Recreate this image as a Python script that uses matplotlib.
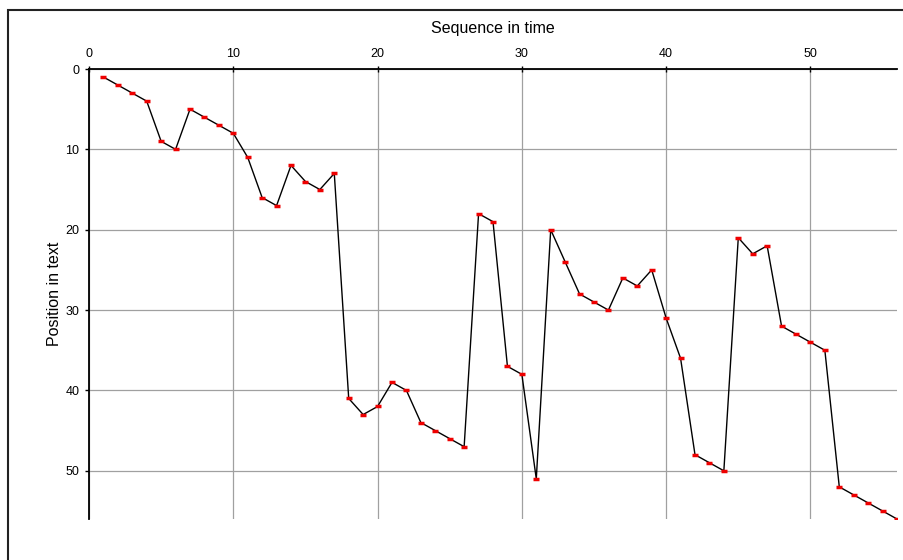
import matplotlib
matplotlib.use("Agg")
import matplotlib.pyplot as plt
from matplotlib.patches import Rectangle

plt.rcParams['font.family'] = ['Liberation Sans', 'DejaVu Sans']

sequence = list(range(1, 57))
position = [1, 2, 3, 4, 9, 10, 5, 6, 7, 8,
            11, 16, 17, 12, 14, 15, 13, 41, 43, 42,
            39, 40, 44, 45, 46, 47, 18, 19, 37, 38,
            51, 20, 24, 28, 29, 30, 26, 27, 25, 31,
            36, 48, 49, 50, 21, 23, 22, 32, 33, 34,
            35, 52, 53, 54, 55, 56]
x_ticks = [0, 10, 20, 30, 40, 50]
y_ticks = [0, 10, 20, 30, 40, 50]

fig = plt.figure(figsize=(9.04, 5.6), dpi=100)
ax = fig.add_axes([89/904, 1-519/560, (897-89)/904, (519-69)/560])

ax.plot(sequence, position, color='black', lw=1.0, zorder=3)
ax.plot(sequence, position, linestyle='none', marker='_', markersize=5,
        markeredgewidth=2.5, color='#ee0000', zorder=4)

ax.set_xlim(0, 56)
ax.set_ylim(56, 0)
ax.set_xticks(x_ticks)
ax.set_yticks(y_ticks)
ax.xaxis.tick_top()
ax.xaxis.set_label_position('top')
ax.grid(True, color='#a0a0a0', lw=0.9, zorder=0)
ax.set_axisbelow(True)
for s in ['right', 'bottom']:
    ax.spines[s].set_visible(False)
ax.spines['top'].set_linewidth(1.3)
ax.spines['left'].set_linewidth(1.3)
ax.tick_params(axis='x', direction='inout', length=5, width=1, labelsize=9, pad=4)
ax.tick_params(axis='y', direction='out', length=3, width=1, labelsize=9, pad=4)
ax.set_xlabel('Sequence in time', fontsize=11.5, labelpad=11)
ax.set_ylabel('Position in text', fontsize=11.5, labelpad=2)

fig.patches.append(Rectangle((8/904, -0.1), 1.2, 1 - 10/560 + 0.1,
                             transform=fig.transFigure, fill=False,
                             edgecolor='#222222', lw=1.5))

fig.savefig('out.png', dpi=100)
